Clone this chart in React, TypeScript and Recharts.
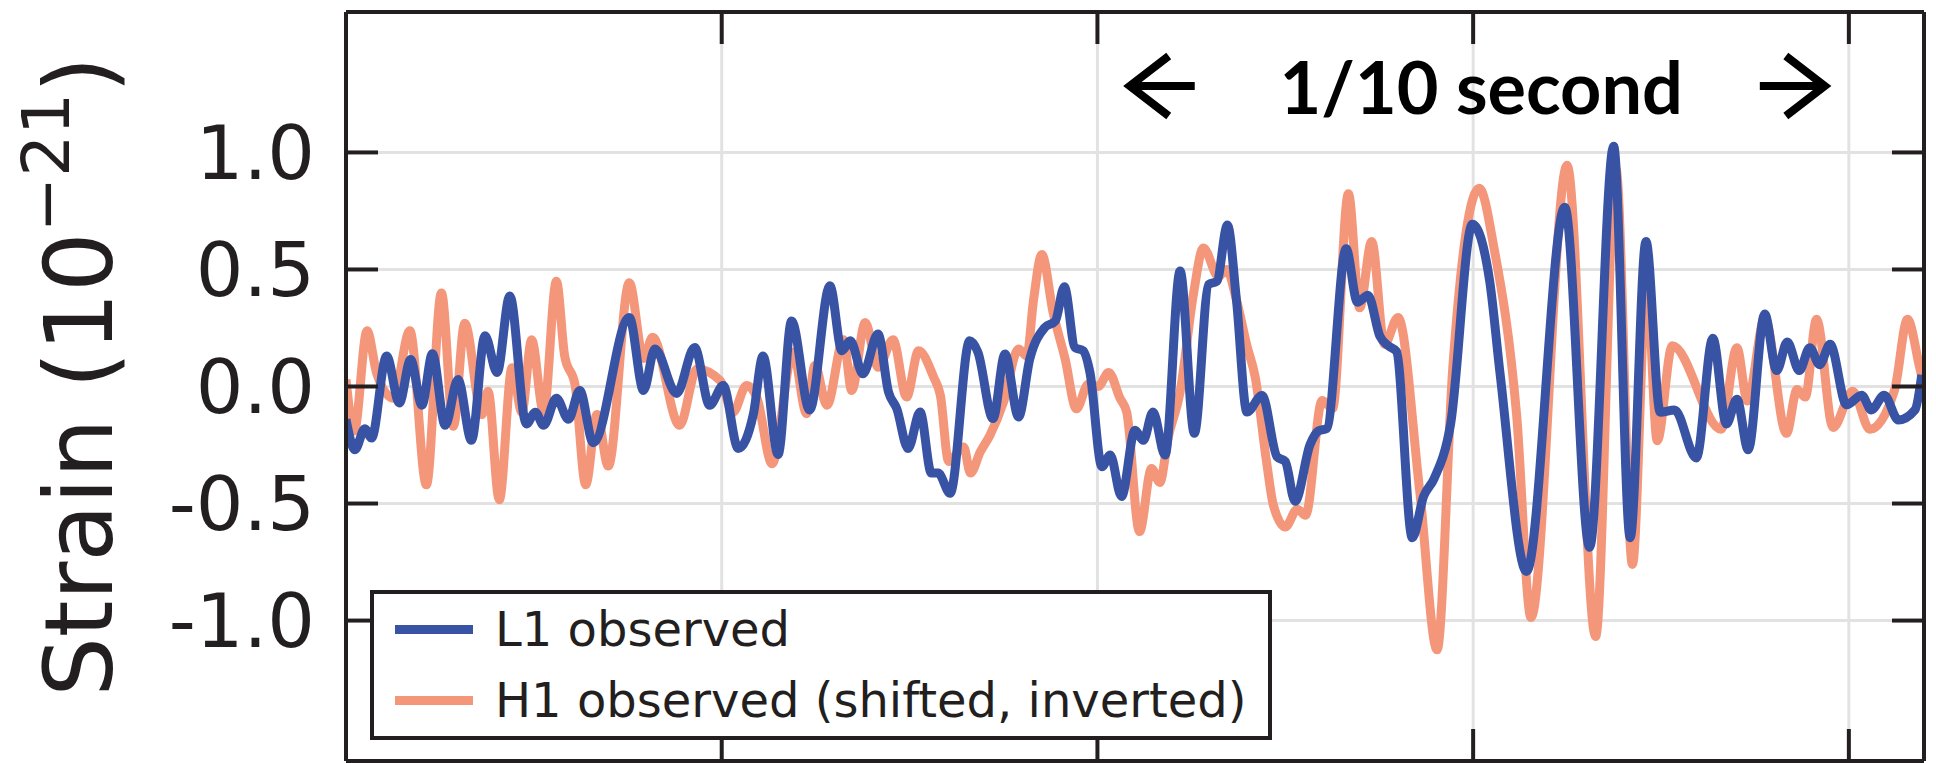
import { LineChart, Line, XAxis, YAxis, CartesianGrid, Legend, ReferenceLine } from 'recharts'

// time in seconds, strain in units of 1e-21
const l1Time = [
  0.25, 0.2512, 0.2525, 0.2534, 0.2554, 0.2571, 0.2586, 0.2601, 0.2615, 0.2632, 0.2649, 0.2667, 0.2685, 0.2701,
  0.2718, 0.274, 0.2752, 0.2763, 0.278, 0.2796, 0.2811, 0.2829, 0.2877, 0.2896, 0.2911, 0.294, 0.2964, 0.2984,
  0.3002, 0.3022, 0.3042, 0.3055, 0.3075, 0.3093, 0.3117, 0.3144, 0.316, 0.3171, 0.3188, 0.3208, 0.3222, 0.3233,
  0.3248, 0.3264, 0.3279, 0.3288, 0.3304, 0.333, 0.3341, 0.3361, 0.3377, 0.3395, 0.341, 0.343, 0.3444, 0.3456,
  0.347, 0.3481, 0.349, 0.3506, 0.3517, 0.3532, 0.355, 0.3561, 0.3574, 0.359, 0.361, 0.3629, 0.3648, 0.3659,
  0.3673, 0.3685, 0.3699, 0.3719, 0.3739, 0.375, 0.3763, 0.3783, 0.3794, 0.3805, 0.3831, 0.3846, 0.386, 0.3876,
  0.3887, 0.3898, 0.3919, 0.3934, 0.3948, 0.397, 0.3999, 0.4022, 0.4036, 0.4071, 0.4122, 0.4155, 0.4187, 0.4209,
  0.423, 0.4249, 0.4268, 0.4297, 0.4319, 0.4337, 0.4351, 0.4366, 0.4388, 0.4404, 0.4418, 0.4434, 0.4448, 0.4461,
  0.4475, 0.4497, 0.4517, 0.453, 0.4547, 0.4566, 0.4588, 0.4597,
]
const l1Strain = [
  -0.14, -0.27, -0.18, -0.22, 0.13, -0.07, 0.115, -0.08, 0.14, -0.166, 0.03, -0.23, 0.217, 0.06,
  0.387, -0.16, -0.11, -0.166, -0.05, -0.14, -0.017, -0.24, 0.295, -0.017, 0.16, -0.03, 0.167, -0.08,
  0.004, -0.265, -0.12, 0.13, -0.29, 0.28, -0.1, 0.43, 0.153, 0.195, 0.054, 0.224, -0.024, -0.095,
  -0.265, -0.109, -0.37, -0.37, -0.456, 0.195, 0.146, -0.137, 0.139, -0.13, 0.118, 0.252, 0.28, 0.426,
  0.167, 0.153, 0.061, -0.343, -0.293, -0.47, -0.187, -0.23, -0.109, -0.293, 0.493, -0.2, 0.436, 0.45,
  0.69, 0.37, -0.109, -0.038, -0.3, -0.32, -0.49, -0.248, -0.19, -0.18, 0.588, 0.36, 0.39, 0.214,
  0.174, 0.15, -0.646, -0.47, -0.394, -0.16, 0.693, 0.45, 0.05, -0.79, 0.766, -0.687, 1.026, -0.646,
  0.62, -0.11, -0.1, -0.305, 0.206, -0.16, -0.054, -0.27, 0.31, 0.068, 0.19, 0.068, 0.166, 0.093,
  0.18, -0.078, -0.037, -0.1, -0.037, -0.143, -0.1, 0.05,
]

const h1Time = [
  0.25, 0.2511, 0.2528, 0.2541, 0.2563, 0.2585, 0.2607, 0.2627, 0.2643, 0.2658, 0.2681, 0.2689, 0.2704, 0.2721,
  0.2734, 0.2747, 0.2763, 0.278, 0.2791, 0.2805, 0.2819, 0.2834, 0.2849, 0.2877, 0.2896, 0.2908, 0.2944, 0.2967,
  0.2998, 0.3015, 0.3033, 0.3047, 0.3067, 0.3095, 0.3113, 0.3124, 0.314, 0.3162, 0.3173, 0.3191, 0.3208, 0.3228,
  0.3246, 0.3262, 0.3282, 0.3291, 0.3302, 0.3322, 0.3331, 0.3344, 0.3357, 0.3375, 0.3395, 0.3406, 0.3415, 0.3426,
  0.3441, 0.3457, 0.3472, 0.3488, 0.3501, 0.3515, 0.353, 0.3539, 0.3556, 0.3572, 0.3583, 0.3594, 0.361, 0.3628,
  0.3641, 0.3661, 0.3672, 0.3685, 0.3699, 0.371, 0.3725, 0.3734, 0.375, 0.3766, 0.3777, 0.3799, 0.3813, 0.3834,
  0.3849, 0.3865, 0.3882, 0.39, 0.3929, 0.3952, 0.3973, 0.4008, 0.4028, 0.4058, 0.4077, 0.4125, 0.4163, 0.419,
  0.4212, 0.4231, 0.4245, 0.4265, 0.433, 0.4351, 0.4365, 0.4388, 0.4417, 0.4431, 0.4442, 0.4457, 0.4479, 0.4505,
  0.4528, 0.4561, 0.4578, 0.4594, 0.46,
]
const h1Strain = [
  0.03, -0.19, 0.238, 0.054, -0.05, 0.238, -0.42, 0.4, -0.17, 0.27, -0.12, -0.02, -0.484, 0.08,
  -0.11, 0.2, -0.11, 0.45, 0.13, 0.004, -0.42, -0.12, -0.34, 0.443, 0.12, 0.21, -0.166, 0.075,
  0.025, -0.11, 0.004, -0.05, -0.33, 0.146, -0.116, 0.09, -0.08, 0.2, -0.017, 0.273, 0.082, 0.2,
  -0.045, 0.153, 0.04, -0.038, -0.32, -0.258, -0.37, -0.28, -0.208, -0.067, 0.16, 0.13, 0.37, 0.564,
  0.316, 0.118, -0.095, 0.011, 0, 0.06, -0.05, -0.11, -0.62, -0.35, -0.41, -0.22, -0.024, 0.4,
  0.592, 0.47, 0.5, 0.37, 0.174, 0.04, -0.32, -0.505, -0.6, -0.524, -0.55, -0.06, -0.094, 0.823,
  0.336, 0.62, 0.18, 0.295, -0.45, -1.125, 0.084, 0.847, 0.588, -0.127, -0.987, 0.945, -1.068, 0.93,
  -0.76, 0.45, -0.232, 0.174, -0.183, 0.166, -0.062, 0.29, -0.2, -0.013, -0.045, 0.287, -0.175, -0.02,
  -0.183, -0.013, 0.287, 0.084, 0.0,
]

const yTicks = [-1, -0.5, 0, 0.5, 1]
const xTicks = [0.3, 0.35, 0.4, 0.45]
const seriesNames = ['L1 observed', 'H1 observed (shifted, inverted)']
const seriesColors = ['#3953a4', '#f4967a']
// the "1/10 second" span, tip to tip
const spanStart = 0.3539
const spanEnd = 0.4472
const spanLevel = 1.284

const l1Data = l1Time.map((t, i) => ({ t, strain: l1Strain[i] }))
const h1Data = h1Time.map((t, i) => ({ t, strain: h1Strain[i] }))

const ink = '#231f20'
const TICK = 32 // inward tick length

function LeftLabel(props: any) {
  const { x, y, payload } = props
  return (
    <text x={x} y={y} dy="0.355em" textAnchor="end" fontFamily="DejaVu Sans" fontSize={75} fill={ink}>
      {payload.value.toFixed(1)}
    </text>
  )
}
const NoTick = () => <g />

// matplotlib-style inward ticks on both ends of a grid position
function HStubs(props: any) {
  const { x1, x2, y1 } = props
  const lo = Math.min(x1, x2)
  const hi = Math.max(x1, x2)
  return (
    <g>
      <line x1={lo} x2={lo + TICK} y1={y1} y2={y1} stroke={ink} strokeWidth={4} />
      <line x1={hi - TICK} x2={hi} y1={y1} y2={y1} stroke={ink} strokeWidth={4} />
    </g>
  )
}
function VStubs(props: any) {
  const { x1, y1, y2 } = props
  const lo = Math.min(y1, y2)
  const hi = Math.max(y1, y2)
  return (
    <g>
      <line x1={x1} x2={x1} y1={lo} y2={lo + TICK} stroke={ink} strokeWidth={4} />
      <line x1={x1} x2={x1} y1={hi - TICK} y2={hi} stroke={ink} strokeWidth={4} />
    </g>
  )
}

function SpanArrows(props: any) {
  const { x1, y1, x2 } = props
  const y = y1
  const shaft = 68
  const head = 42
  const half = 30
  const left = `M${x1 + head},${y - half} L${x1 + 3},${y} L${x1 + head},${y + half} M${x1 + 6},${y} L${x1 + shaft},${y}`
  const right = `M${x2 - head},${y - half} L${x2 - 3},${y} L${x2 - head},${y + half} M${x2 - 6},${y} L${x2 - shaft},${y}`
  return (
    <g>
      <path d={left} stroke="#000" strokeWidth={8} fill="none" />
      <path d={right} stroke="#000" strokeWidth={8} fill="none" />
      <text x={(x1 + x2) / 2 + 4} y={y + 28} textAnchor="middle" fontFamily="Lato" fontWeight={700} fontSize={72} fill="#000">
        1/10 second
      </text>
    </g>
  )
}

function StrainTitle(props: any) {
  const vb = props.viewBox || { x: 0, y: 12, width: 346, height: 749 }
  const x = vb.x + 112
  const y = vb.y + vb.height / 2 - 10
  return (
    <text x={x} y={y} transform={`rotate(-90, ${x}, ${y})`} textAnchor="middle" fontFamily="DejaVu Sans" fontSize={94} fill={ink}>
      Strain (10
      <tspan dy={-43} fontSize={66}>−21</tspan>
      <tspan dy={43}>)</tspan>
    </text>
  )
}

function LegendBox() {
  return (
    <div style={{ width: 902, height: 150, boxSizing: 'border-box', border: `4px solid ${ink}`, background: '#fff' }}>
      {seriesNames.map((name, i) => (
        <div key={name} style={{ display: 'flex', alignItems: 'center', height: 71 }}>
          <div style={{ marginLeft: 21, width: 78, height: 9, background: seriesColors[i] }} />
          <span style={{ marginLeft: 22, fontFamily: 'DejaVu Sans', fontSize: 48, lineHeight: '71px', color: ink, whiteSpace: 'nowrap' }}>{name}</span>
        </div>
      ))}
    </div>
  )
}

export default function App() {
  const frame = { stroke: ink, strokeWidth: 4 }
  return (
    <div style={{ position: 'absolute', left: 0, top: 0 }}>
      <LineChart width={1936} height={763} margin={{ top: 0, right: 0, bottom: 0, left: 0 }}>
        <CartesianGrid xAxisId="b" yAxisId="l" stroke="#e2e2e2" strokeWidth={3} />
        <XAxis xAxisId="b" type="number" dataKey="t" domain={[0.25, 0.46]} ticks={xTicks} allowDataOverflow
          height={2} tick={<NoTick />} tickLine={false} axisLine={frame} />
        <XAxis xAxisId="t" orientation="top" type="number" dataKey="t" domain={[0.25, 0.46]} ticks={xTicks} allowDataOverflow
          height={12} tick={<NoTick />} tickLine={false} axisLine={frame} />
        <YAxis yAxisId="l" type="number" domain={[-1.6, 1.6]} ticks={yTicks} allowDataOverflow width={346}
          tickSize={-TICK} tickMargin={63} axisLine={frame} tickLine={false}
          tick={<LeftLabel />} label={<StrainTitle />} />
        <YAxis yAxisId="r" orientation="right" type="number" domain={[-1.6, 1.6]} ticks={yTicks} allowDataOverflow width={12}
          tick={<NoTick />} tickLine={false} axisLine={frame} />
        <Line xAxisId="b" yAxisId="l" data={h1Data} dataKey="strain" name={seriesNames[1]} type="monotone"
          stroke={seriesColors[1]} strokeWidth={9} dot={false} isAnimationActive={false} />
        <Line xAxisId="b" yAxisId="l" data={l1Data} dataKey="strain" name={seriesNames[0]} type="monotone"
          stroke={seriesColors[0]} strokeWidth={9} dot={false} isAnimationActive={false} />
        {yTicks.map((v) => (
          <ReferenceLine key={`y${v}`} xAxisId="b" yAxisId="l" y={v} shape={HStubs} />
        ))}
        {xTicks.map((v) => (
          <ReferenceLine key={`x${v}`} xAxisId="b" yAxisId="l" x={v} shape={VStubs} />
        ))}
        <ReferenceLine xAxisId="b" yAxisId="l" segment={[{ x: spanStart, y: spanLevel }, { x: spanEnd, y: spanLevel }]}
          shape={SpanArrows} />
        <Legend layout="vertical" align="center" verticalAlign="middle" content={<LegendBox />}
          wrapperStyle={{ left: 370, top: 590, width: 'auto' }} />
      </LineChart>
    </div>
  )
}
